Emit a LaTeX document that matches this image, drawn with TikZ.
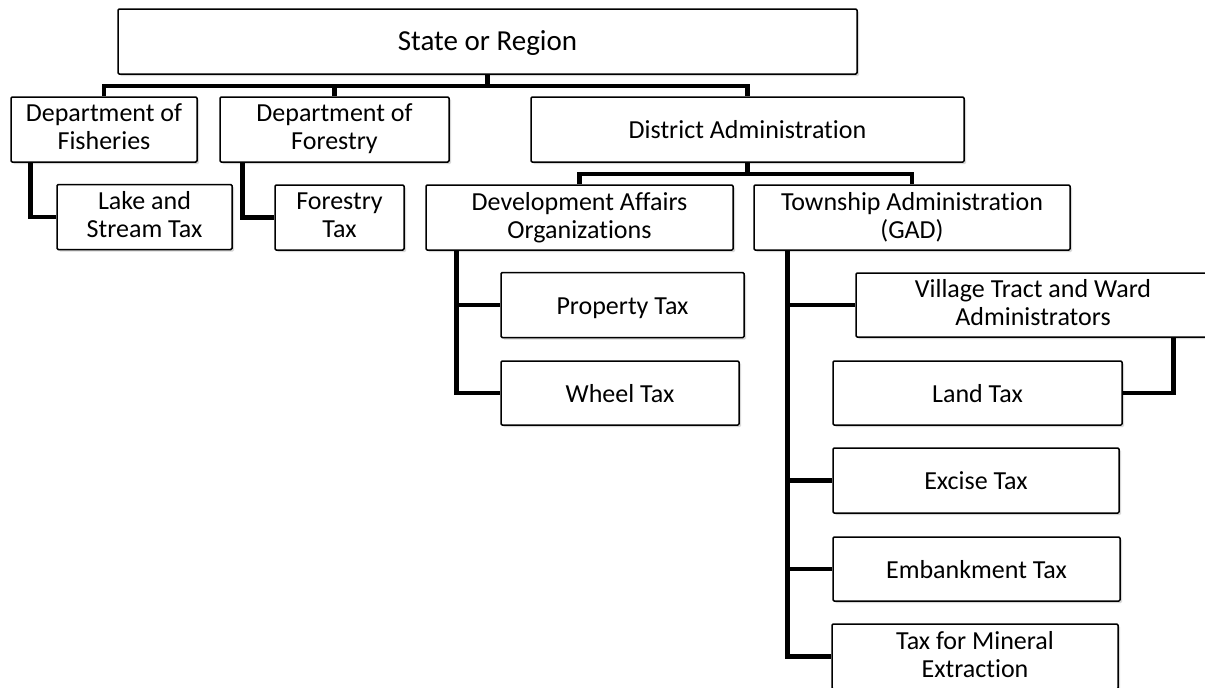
\documentclass[tikz,border=0pt]{standalone}
\usepackage{fontspec}
\setmainfont[Ligatures={NoCommon}]{Carlito}
\usetikzlibrary{shadows,calc}
\newcommand{\bstrut}{\rule[-5pt]{0pt}{28pt}}
\tikzset{
  box/.style={draw=black, line width=1.5pt, fill=white, rounded corners=1.2pt,
    inner sep=0pt, align=center, font=\fontsize{26}{28}\selectfont,
    drop shadow={shadow xshift=2pt, shadow yshift=-2pt, opacity=0.3, fill=gray},
    execute at begin node=\bstrut, execute at end node=\bstrut},
  conn/.style={draw=black, line width=4.6pt, line join=miter}
}
\begin{document}
\begin{tikzpicture}[x=1pt, y=-1pt]
\clip (0,0) rectangle (1205,688);
\fill[white] (0,0) rectangle (1205,688);
\coordinate (sbus) at (487.5,86);
\coordinate (dbus) at (747.5,174);
% boxes
\node[box, minimum width=739pt, minimum height=65pt, font=\fontsize{29}{30}\selectfont] (state) at (487.5,41.5) {State or Region};
\node[box, minimum width=186pt, minimum height=65pt] (fish) at (104,129.5) {Department of\\Fisheries};
\node[box, minimum width=229pt, minimum height=65pt] (fdep) at (334.5,129.5) {Department of\\Forestry};
\node[box, minimum width=433pt, minimum height=65pt] (dist) at (747.5,129.5) {District Administration};
\node[box, minimum width=175pt, minimum height=65pt] (lake) at (144.5,217) {Lake and\\Stream Tax};
\node[box, minimum width=129pt, minimum height=65pt] (ftax) at (339.5,217.5) {Forestry\\Tax};
\node[box, minimum width=307pt, minimum height=65pt] (dao) at (579.5,217.5) {Development Affairs\\Organizations};
\node[box, minimum width=316pt, minimum height=65pt] (twp) at (912,217.5) {Township Administration\\(GAD)};
\node[box, minimum width=243pt, minimum height=65pt] (prop) at (622.5,305) {Property Tax};
\node[box, minimum width=238pt, minimum height=64pt] (wheel) at (620,393) {Wheel Tax};
\node[box, minimum width=354pt, minimum height=64pt] (vill) at (1033,305) {Village Tract and Ward\\Administrators};
\node[box, minimum width=289pt, minimum height=64pt] (land) at (977.5,393) {Land Tax};
\node[box, minimum width=286pt, minimum height=65pt] (excise) at (976,480.5) {Excise Tax};
\node[box, minimum width=287pt, minimum height=64pt] (emb) at (976.5,569) {Embankment Tax};
\node[box, minimum width=286pt, minimum height=65pt] (mineral) at (975,656.5) {Tax for Mineral\\Extraction};
% connectors
\draw[conn] (state.south) -- (sbus);
\draw[conn] (fish.north) |- (sbus) -| (dist.north);
\draw[conn] (fdep.north) -- (fdep.north |- sbus);
\draw[conn] ($(fish.south west)+(20,0)$) |- (lake.west);
\draw[conn] ($(fdep.south west)+(23,0)$) |- (ftax.west);
\draw[conn] (dist.south) -- (dbus);
\draw[conn] (dao.north) |- (dbus) -| (twp.north);
\draw[conn] ($(dao.south west)+(31,0)$) |- (wheel.west);
\draw[conn] ($(dao.south west)+(31,0)$) |- (prop.west);
\draw[conn] ($(twp.south west)+(34,0)$) |- (mineral.west);
\draw[conn] ($(twp.south west)+(34,0)$) |- (vill.west);
\draw[conn] ($(twp.south west)+(34,0)$) |- (excise.west);
\draw[conn] ($(twp.south west)+(34,0)$) |- (emb.west);
\draw[conn] ($(vill.south west)+(318,0)$) |- (land.east);
\end{tikzpicture}
\end{document}
